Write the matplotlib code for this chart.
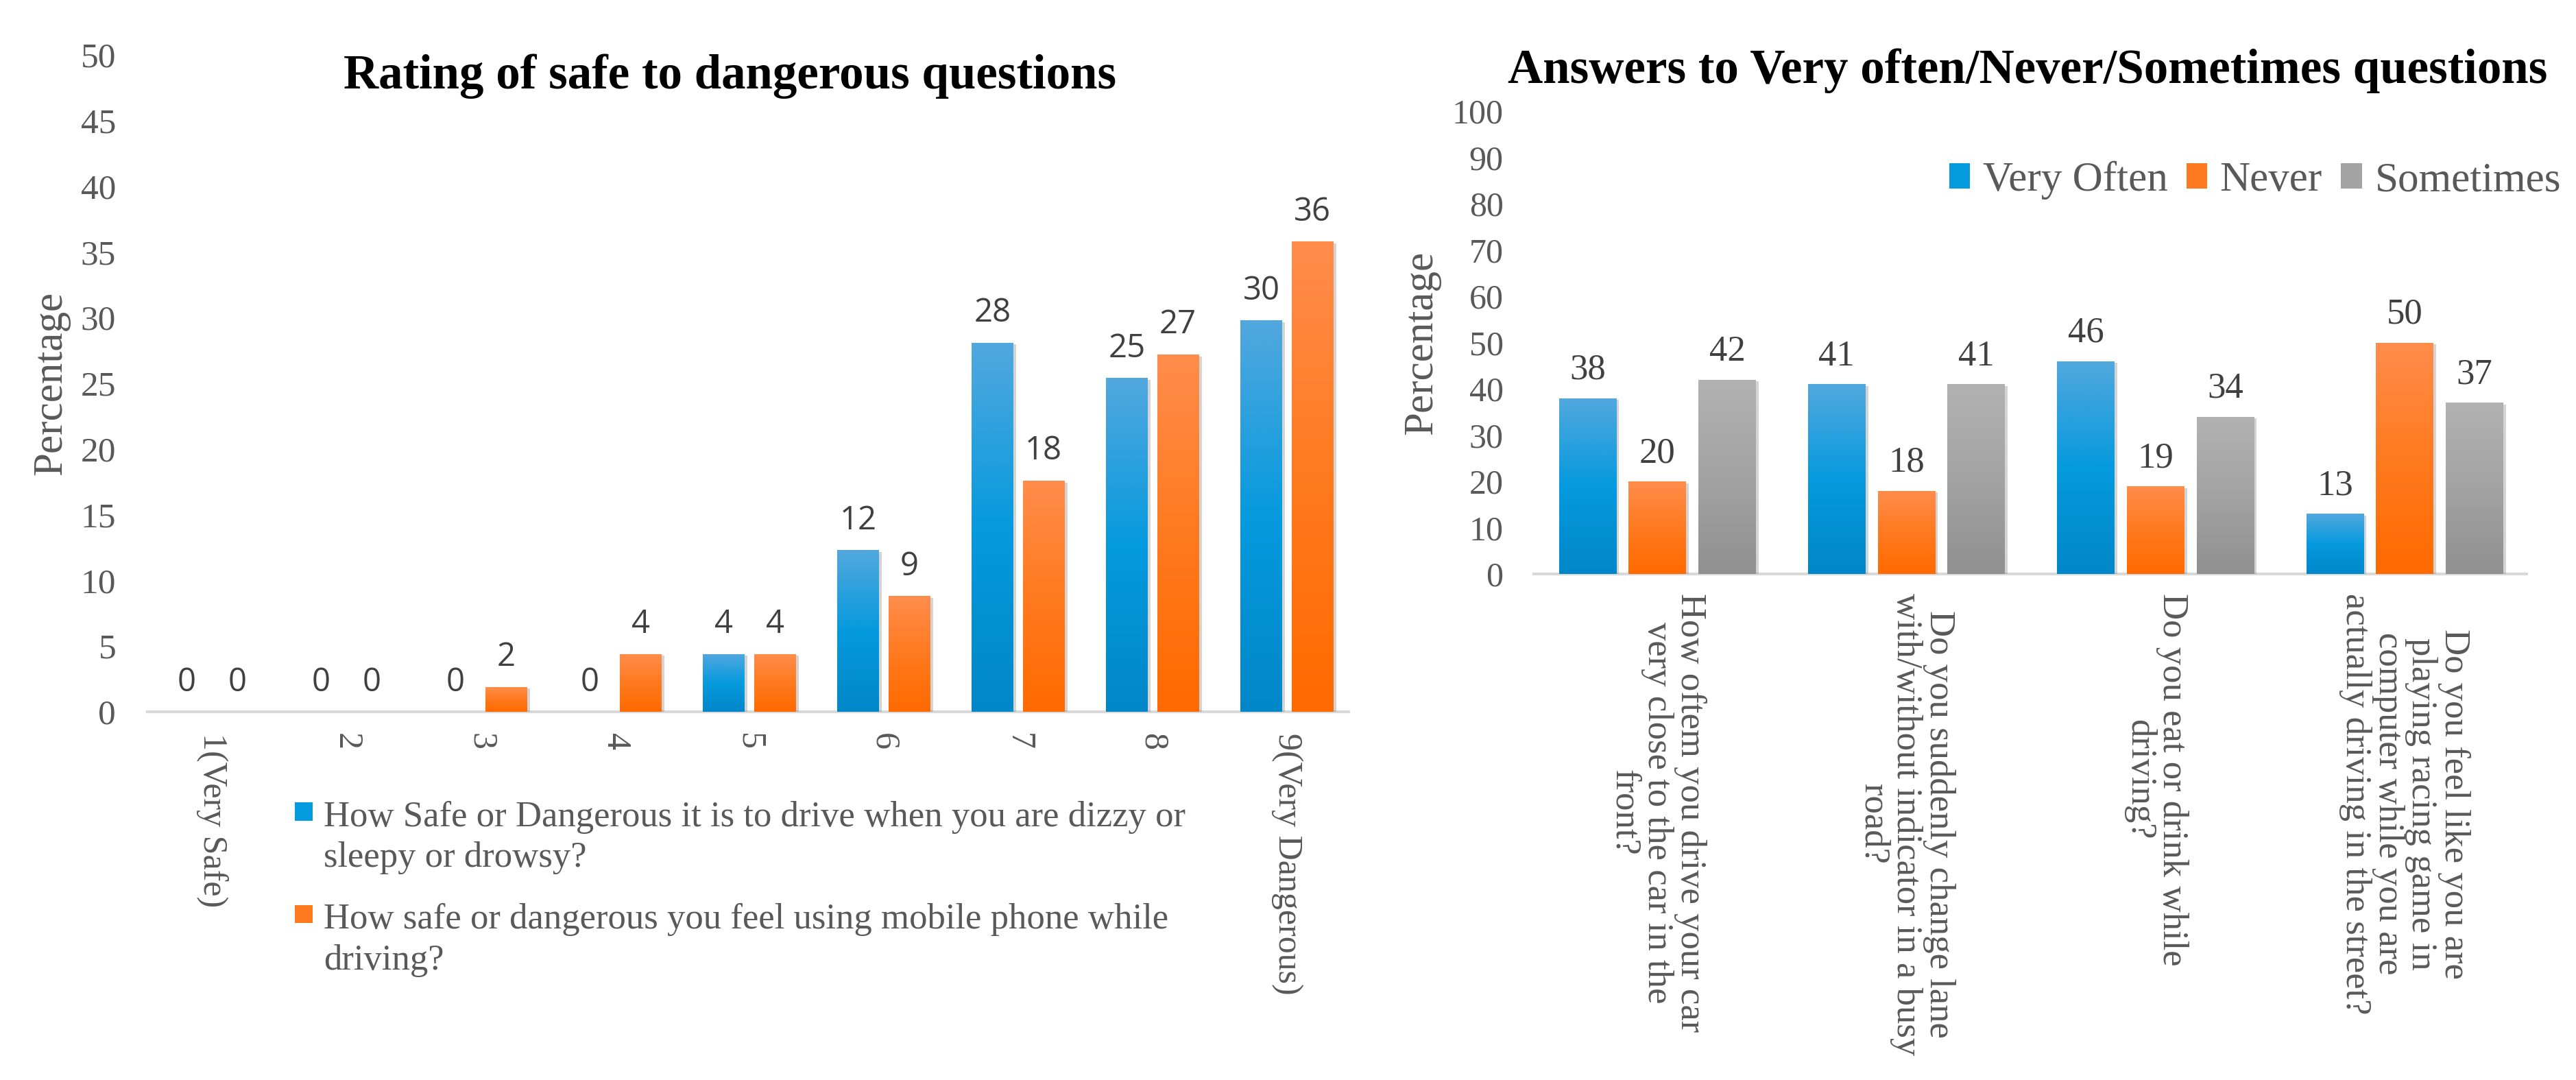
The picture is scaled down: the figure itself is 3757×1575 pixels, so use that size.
import numpy as np
import matplotlib
matplotlib.use("Agg")
import matplotlib.pyplot as plt
from matplotlib.colors import LinearSegmentedColormap
from matplotlib.patches import Patch, Rectangle
from matplotlib.legend_handler import HandlerPatch
import matplotlib.patheffects as pe

# ---------------- data ----------------
rating_categories = ['1(Very Safe)', '2', '3', '4', '5', '6', '7', '8', '9(Very Dangerous)']
dizzy_values = [0, 0, 0, 0, 4.4, 12.3, 28.1, 25.4, 29.8]
mobile_values = [0, 0, 1.9, 4.4, 4.4, 8.8, 17.6, 27.2, 35.8]
rating_series = ['How Safe or Dangerous it is to drive when you are dizzy or\nsleepy or drowsy?',
                 'How safe or dangerous you feel using mobile phone while\ndriving?']

question_categories = ['How oftem you drive your car\nvery close to the car in the\nfront?',
                       'Do you suddenly change lane\nwith/without indicator in a busy\nroad?',
                       'Do you eat or drink while\ndriving?',
                       'Do you feel like you are\nplaying racing game in\ncomputer while you are\nactually driving in the street?']
very_often = [38, 41, 46, 13]
never = [20, 18, 19, 50]
sometimes = [42, 41, 34, 37]
answer_series = ['Very Often', 'Never', 'Sometimes']

left_ticks = list(range(0, 51, 5))
right_ticks = list(range(0, 101, 10))

# ---------------- style ----------------
SERIF = ['Liberation Serif', 'DejaVu Serif']
SANS = ['Open Sans', 'Liberation Sans', 'DejaVu Sans']
TXT = '#595959'
LBL = '#404040'
BLUE = ('#52a8de', '#069ade', '#0087c9')
ORANGE = ('#ff8d4c', '#ff7a1f', '#ff6a00')
GRAY = ('#b2b2b2', '#a3a3a3', '#909090')

W, H = 3757, 1575
fig = plt.figure(figsize=(W / 100, H / 100), dpi=100)
fig.patch.set_facecolor('white')


def box(l, r, t, b):  # pixel box -> figure fraction
    return [l / W, 1 - b / H, (r - l) / W, (b - t) / H]


ax1 = fig.add_axes(box(215, 1967, 80, 1038))
ax2 = fig.add_axes(box(2237, 3685, 162, 837))

shadow = [pe.SimplePatchShadow(offset=(3, -2), shadow_rgbFace=(0.45, 0.45, 0.45), alpha=0.3), pe.Normal()]


def gradient(ax, bars, cols):
    cmap = LinearSegmentedColormap.from_list('g', [cols[2], cols[1], cols[0]])
    grad = np.linspace(0, 1, 256).reshape(-1, 1)
    for b in bars:
        h = b.get_height()
        if h <= 0:
            continue
        x, y, w = b.get_x(), b.get_y(), b.get_width()
        im = ax.imshow(grad, extent=[x, x + w, y, y + h], origin='lower', cmap=cmap,
                       aspect='auto', zorder=b.get_zorder() + 0.1, interpolation='bicubic')
        im.set_clip_path(b)


def style_axis(ax):
    for s in ['top', 'right', 'left']:
        ax.spines[s].set_visible(False)
    ax.spines['bottom'].set_color('#d9d9d9')
    ax.spines['bottom'].set_linewidth(3)
    ax.spines['bottom'].set_zorder(0.5)
    ax.tick_params(axis='both', length=0, colors=TXT)


def first_line_square(legend, orig_handle, xdescent, ydescent, width, height, fontsize):
    # square marker placed next to the first of two label lines
    return Rectangle((-xdescent, 0.82 * fontsize), width, 0.5 * fontsize)


# ---------------- left chart ----------------
x1 = np.arange(len(rating_categories))
bw1 = 0.31
off1 = 0.19
b1 = ax1.bar(x1 - off1, dizzy_values, bw1, color=BLUE[1], path_effects=shadow, zorder=2)
b2 = ax1.bar(x1 + off1, mobile_values, bw1, color=ORANGE[1], path_effects=shadow, zorder=2)
gradient(ax1, b1, BLUE)
gradient(ax1, b2, ORANGE)
for bars in (b1, b2):
    ax1.bar_label(bars, labels=[f'{v:.0f}' for v in bars.datavalues], padding=14,
                  fontsize=34, color=LBL, family=SANS)
ax1.set_xlim(-0.48, 8.46)
ax1.set_ylim(0, 50)
ax1.set_yticks(left_ticks)
ax1.set_yticklabels([str(t) for t in left_ticks], fontsize=37, family=SERIF, color=TXT)
ax1.set_xticks(x1)
ax1.set_xticklabels(rating_categories, rotation=270, fontsize=36, family=SERIF, color=TXT)
ax1.tick_params(axis='x', pad=22)
ax1.tick_params(axis='y', pad=33)
style_axis(ax1)
ax1.set_ylabel('Percentage', fontsize=44, family=SERIF, color=TXT)
ax1.yaxis.set_label_coords(-0.0645, 0.5)

hmap = {Patch: HandlerPatch(patch_func=first_line_square)}
leg1 = fig.legend([Patch(facecolor=BLUE[1]), Patch(facecolor=ORANGE[1])], rating_series,
                  loc='upper left', bbox_to_anchor=(430 / W, 1 - 1168 / H), frameon=False,
                  prop={'family': SERIF, 'size': 38}, labelcolor=TXT, handler_map=hmap,
                  handlelength=0.5, handleheight=0.55, handletextpad=0.3, labelspacing=0.8,
                  borderpad=0, borderaxespad=0)
for t in leg1.get_texts():
    t.set_linespacing(1.3)
fig.text(1065 / W, 1 - 111 / H, 'Rating of safe to dangerous questions', ha='center', va='center',
         fontsize=51, fontweight='bold', family=SERIF, color='black')

# ---------------- right chart ----------------
x2 = np.arange(len(question_categories))
bw2 = 0.23
off2 = 0.28
c1 = ax2.bar(x2 - off2, very_often, bw2, color=BLUE[1], path_effects=shadow, zorder=2)
c2 = ax2.bar(x2, never, bw2, color=ORANGE[1], path_effects=shadow, zorder=2)
c3 = ax2.bar(x2 + off2, sometimes, bw2, color=GRAY[1], path_effects=shadow, zorder=2)
gradient(ax2, c1, BLUE)
gradient(ax2, c2, ORANGE)
gradient(ax2, c3, GRAY)
for bars in (c1, c2, c3):
    ax2.bar_label(bars, labels=[f'{v:.0f}' for v in bars.datavalues], padding=12,
                  fontsize=38, color=LBL, family=SERIF)
ax2.set_xlim(-0.496, 3.49)
ax2.set_ylim(0, 100)
ax2.set_yticks(right_ticks)
ax2.set_yticklabels([str(t) for t in right_ticks], fontsize=36, family=SERIF, color=TXT)
ax2.set_xticks(x2)
ax2.set_xticklabels(question_categories, rotation=270, fontsize=38, family=SERIF, color=TXT,
                    multialignment='center', linespacing=1.0)
ax2.tick_params(axis='x', pad=20)
ax2.tick_params(axis='y', pad=32)
style_axis(ax2)
ax2.set_ylabel('Percentage', fontsize=44, family=SERIF, color=TXT)
ax2.yaxis.set_label_coords(-0.094, 0.5)
fig.legend([Patch(facecolor=BLUE[1]), Patch(facecolor=ORANGE[1]), Patch(facecolor=GRAY[1])],
           answer_series, loc='center right', bbox_to_anchor=(3735 / W, 1 - 263 / H), ncol=3,
           frameon=False, prop={'family': SERIF, 'size': 44}, labelcolor=TXT,
           handlelength=0.5, handleheight=0.55, handletextpad=0.3, columnspacing=0.45,
           borderpad=0, borderaxespad=0)
fig.text(2957 / W, 1 - 103 / H, 'Answers to Very often/Never/Sometimes questions', ha='center',
         va='center', fontsize=51, fontweight='bold', family=SERIF, color='black')

fig.savefig('out.png', dpi=100, facecolor='white')
